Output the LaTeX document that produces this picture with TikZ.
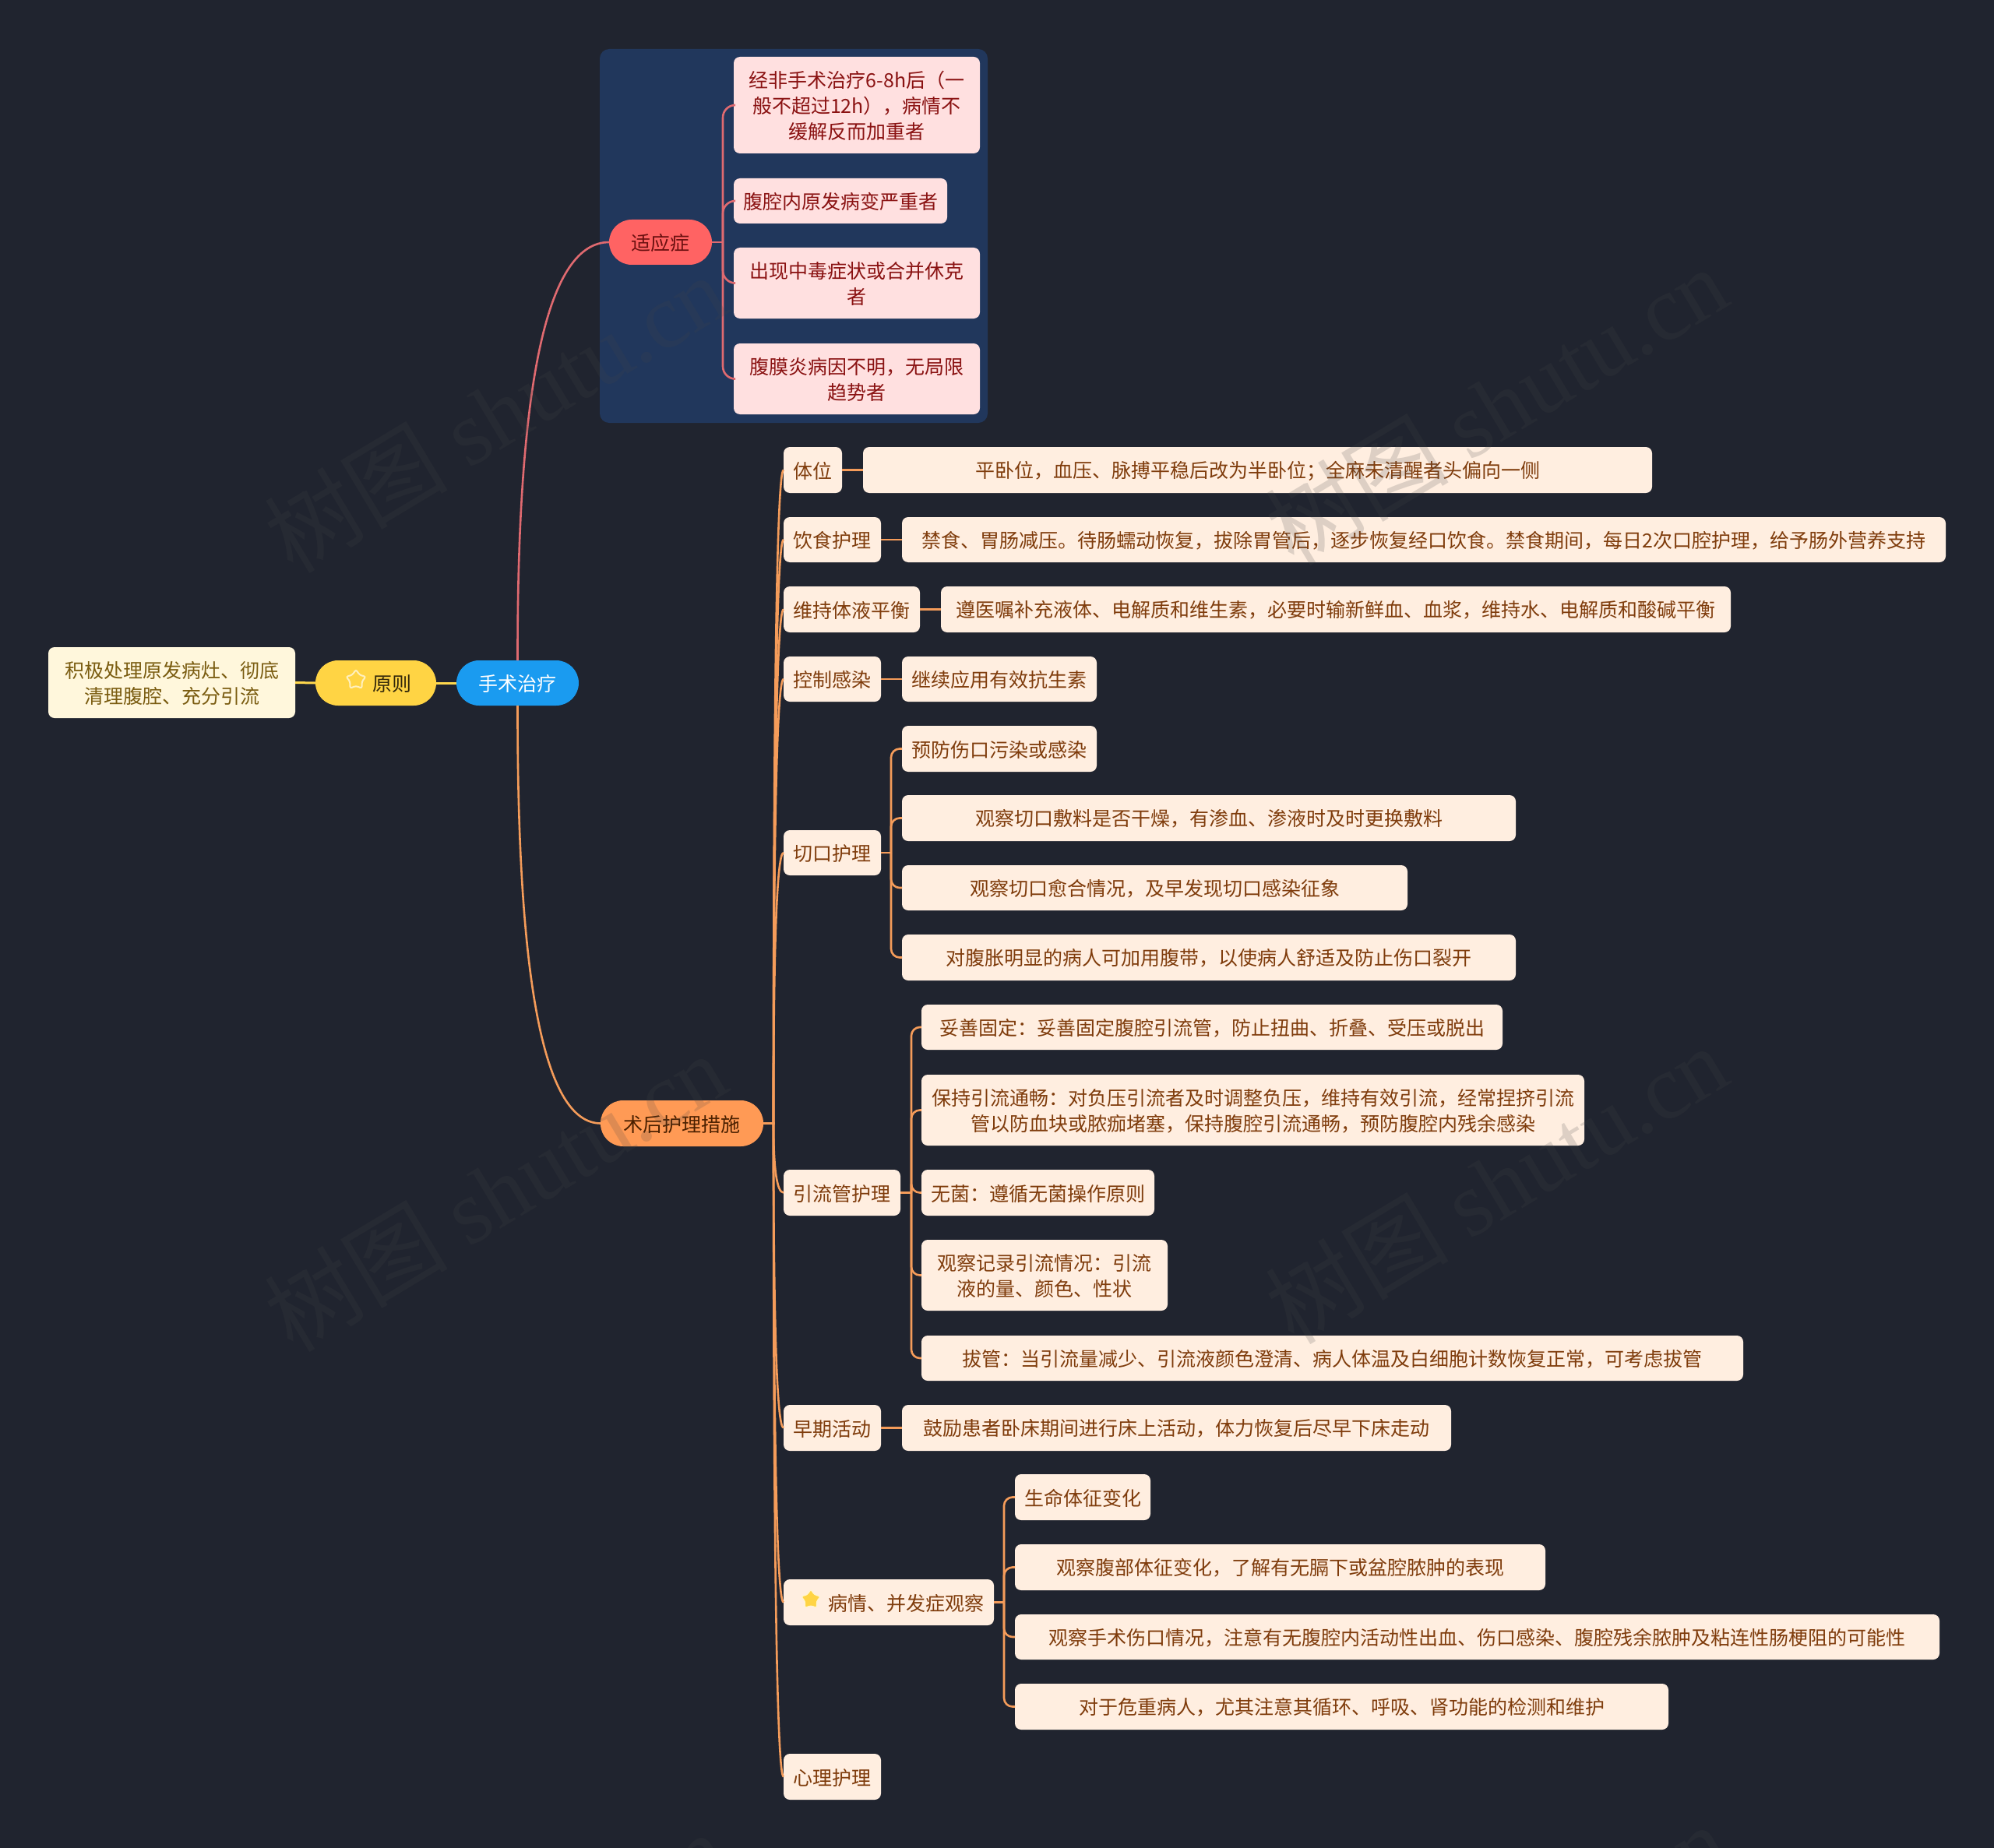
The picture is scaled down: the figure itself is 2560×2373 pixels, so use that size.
\documentclass[tikz,border=0pt]{standalone}
\usepackage{fontspec}
\setmainfont{Noto Sans CJK SC}
\newfontfamily\wmserif{Liberation Serif}
\usetikzlibrary{calc,shapes.geometric}
\definecolor{bgdark}{HTML}{20242F}
\definecolor{groupblue}{HTML}{21375C}
\definecolor{peachfill}{HTML}{FFEEE0}
\definecolor{peachtext}{HTML}{7F3C0C}
\definecolor{pinkfill}{HTML}{FFE0E0}
\definecolor{pinktext}{HTML}{8A1212}
\definecolor{creamfill}{HTML}{FFF7DC}
\definecolor{creamtext}{HTML}{7A5C10}
\definecolor{linered}{HTML}{E06A70}
\definecolor{lineorange}{HTML}{F59C5A}
\definecolor{lineyellow}{HTML}{FFD84D}
\definecolor{wmgray}{HTML}{464646}
\definecolor{HTMLroot}{HTML}{1A9BF0}
\definecolor{HTMLyellow}{HTML}{FFD444}
\definecolor{HTMLyellowtext}{HTML}{33280A}
\definecolor{HTMLred}{HTML}{FF6363}
\definecolor{HTMLredtext}{HTML}{6B1010}
\definecolor{HTMLorange}{HTML}{FF9A55}
\definecolor{HTMLorangetext}{HTML}{4A2000}
\tikzset{
  x=1pt,y=-1pt,
  basebox/.style={inner sep=0pt,outer sep=0pt,align=center,font=\fontsize{25}{33}\selectfont},
  peachbox/.style={basebox,fill=peachfill,text=peachtext,rounded corners=8pt},
  pinkbox/.style={basebox,fill=pinkfill,text=pinktext,rounded corners=8pt},
  creambox/.style={basebox,fill=creamfill,text=creamtext,rounded corners=8pt},
  rootpill/.style={basebox,fill=HTMLroot,text=white,rounded corners=29pt},
  yellowpill/.style={basebox,fill=HTMLyellow,text=HTMLyellowtext,rounded corners=29pt},
  redpill/.style={basebox,fill=HTMLred,text=HTMLredtext,rounded corners=29pt},
  orangepill/.style={basebox,fill=HTMLorange,text=HTMLorangetext,rounded corners=29pt},
  orangelink/.style={draw=lineorange,line width=2.6pt},
  redlink/.style={draw=linered,line width=2.6pt},
  yellowlink/.style={draw=lineyellow,line width=3pt},
  wmtext/.style={text=wmgray,text opacity=0.18,rotate=31,inner sep=0pt,font=\fontsize{118}{118}\selectfont},
  stariconbox/.style={star,star points=5,star point ratio=1.75,minimum size=27pt,inner sep=0pt,rounded corners=3pt},
}
% style, name, x1,y1,x2,y2, text
\newcommand{\nd}[7]{\node[#1,minimum width={(#5-#3)*1pt},minimum height={(#6-#4)*1pt}] (#2) at ({(#3+#5)/2},{(#4+#6)/2}) {\rule{0pt}{23.5pt}#7};}
% parent, child: long tapering curve
\newcommand{\trunklink}[2]{\draw[orangelink] (#1.east) -- ++(13,0) coordinate (tt) .. controls ($(tt)!0.6!(tt |- #2.west)$) and ($(#2.west)!0.02!(tt |- #2.west)+(-9,0)$) .. (#2.west);}
% parent, child, horizontal stub, link style, corner radius
\newcommand{\fork}[5]{\draw[#4,rounded corners=#5pt] ($(#1.east)+(#3,0)$) |- (#2.west); \draw[#4] (#1.east) -- ++(#3,0);}
\begin{document}
\begin{tikzpicture}
\useasboundingbox (0,0) rectangle (2560,2373);
\fill[bgdark] (0,0) rectangle (2560,2373);
\fill[groupblue,rounded corners=12pt] (770,63) rectangle (1268,543);

\nd{rootpill}{root}{586}{848}{743}{906}{手术治疗}
\nd{yellowpill}{princ}{405}{848}{560}{906}{\hspace*{42pt}原则}
\nd{creambox}{princtext}{62}{831}{379}{922}{积极处理原发病灶、彻底\\清理腹腔、充分引流}
\nd{redpill}{indic}{782}{282}{914}{340}{适应症}
\nd{pinkbox}{ia}{942}{73}{1258}{197}{经非手术治疗6-8h后（一\\般不超过12h），病情不\\缓解反而加重者}
\nd{pinkbox}{ib}{942}{229}{1216}{287}{腹腔内原发病变严重者}
\nd{pinkbox}{ic}{942}{318}{1258}{409}{出现中毒症状或合并休克\\者}
\nd{pinkbox}{id}{942}{441}{1258}{532}{腹膜炎病因不明，无局限\\趋势者}
\nd{orangepill}{post}{771}{1413}{980}{1472}{术后护理措施}

\nd{peachbox}{pa}{1006}{574}{1081}{633}{体位}
\nd{peachbox}{pat}{1108}{574}{2121}{633}{平卧位，血压、脉搏平稳后改为半卧位；全麻未清醒者头偏向一侧}
\nd{peachbox}{pb}{1006}{664}{1131}{722}{饮食护理}
\nd{peachbox}{pbt}{1158}{664}{2498}{722}{禁食、胃肠减压。待肠蠕动恢复，拔除胃管后，逐步恢复经口饮食。禁食期间，每日2次口腔护理，给予肠外营养支持}
\nd{peachbox}{pc}{1006}{753}{1181}{812}{维持体液平衡}
\nd{peachbox}{pct}{1208}{753}{2222}{812}{遵医嘱补充液体、电解质和维生素，必要时输新鲜血、血浆，维持水、电解质和酸碱平衡}
\nd{peachbox}{pd}{1006}{843}{1131}{901}{控制感染}
\nd{peachbox}{pdt}{1158}{843}{1408}{901}{继续应用有效抗生素}
\nd{peachbox}{pe}{1006}{1066}{1131}{1124}{切口护理}
\nd{peachbox}{pea}{1158}{932}{1408}{991}{预防伤口污染或感染}
\nd{peachbox}{peb}{1158}{1021}{1946}{1080}{观察切口敷料是否干燥，有渗血、渗液时及时更换敷料}
\nd{peachbox}{pec}{1158}{1111}{1807}{1169}{观察切口愈合情况，及早发现切口感染征象}
\nd{peachbox}{ped}{1158}{1200}{1946}{1259}{对腹胀明显的病人可加用腹带，以使病人舒适及防止伤口裂开}
\nd{peachbox}{pf}{1006}{1502}{1156}{1561}{引流管护理}
\nd{peachbox}{pfa}{1183}{1290}{1929}{1348}{妥善固定：妥善固定腹腔引流管，防止扭曲、折叠、受压或脱出}
\nd{peachbox}{pfb}{1183}{1380}{2034}{1471}{保持引流通畅：对负压引流者及时调整负压，维持有效引流，经常捏挤引流\\管以防血块或脓痂堵塞，保持腹腔引流通畅，预防腹腔内残余感染}
\nd{peachbox}{pfc}{1183}{1502}{1482}{1561}{无菌：遵循无菌操作原则}
\nd{peachbox}{pfd}{1183}{1592}{1499}{1683}{观察记录引流情况：引流\\液的量、颜色、性状}
\nd{peachbox}{pfe}{1183}{1715}{2238}{1773}{拔管：当引流量减少、引流液颜色澄清、病人体温及白细胞计数恢复正常，可考虑拔管}
\nd{peachbox}{pg}{1006}{1804}{1131}{1863}{早期活动}
\nd{peachbox}{pgt}{1158}{1804}{1863}{1863}{鼓励患者卧床期间进行床上活动，体力恢复后尽早下床走动}
\nd{peachbox}{ph}{1006}{2028}{1276}{2087}{\hspace*{44pt}病情、并发症观察}
\nd{peachbox}{pha}{1303}{1893}{1477}{1952}{生命体征变化}
\nd{peachbox}{phb}{1303}{1983}{1984}{2042}{观察腹部体征变化，了解有无膈下或盆腔脓肿的表现}
\nd{peachbox}{phc}{1303}{2073}{2490}{2131}{观察手术伤口情况，注意有无腹腔内活动性出血、伤口感染、腹腔残余脓肿及粘连性肠梗阻的可能性}
\nd{peachbox}{phd}{1303}{2162}{2142}{2221}{对于危重病人，尤其注意其循环、呼吸、肾功能的检测和维护}
\nd{peachbox}{pi}{1006}{2252}{1131}{2311}{心理护理}

\node[stariconbox,fill=HTMLyellow,draw=HTMLyellow!35!white,line width=2pt] (staricona) at (457,873) {};
\node[stariconbox,fill=HTMLyellow,draw=HTMLyellow!25!white,line width=1.5pt] (stariconb) at (1041,2054) {};

% root links
\draw[yellowlink] (root.west) -- (princ.east);
\draw[yellowlink] (princ.west) -- (princtext.east);
\draw[redlink] (root.north) .. controls (664,480) and (705,311) .. (indic.west);
\draw[orangelink] (root.south) .. controls (664,1270) and (700,1442) .. (post.west);

% indications
\fork{indic}{ia}{14}{redlink}{16}
\fork{indic}{ib}{14}{redlink}{16}
\fork{indic}{ic}{14}{redlink}{16}
\fork{indic}{id}{14}{redlink}{16}

% post-op trunk
\trunklink{post}{pa}
\trunklink{post}{pb}
\trunklink{post}{pc}
\trunklink{post}{pd}
\trunklink{post}{pe}
\trunklink{post}{pf}
\trunklink{post}{pg}
\trunklink{post}{ph}
\trunklink{post}{pi}

\draw[orangelink] (pa.east) -- (pat.west);
\draw[orangelink] (pb.east) -- (pbt.west);
\draw[orangelink] (pc.east) -- (pct.west);
\draw[orangelink] (pd.east) -- (pdt.west);
\draw[orangelink] (pg.east) -- (pgt.west);

\fork{pe}{pea}{13}{orangelink}{11}
\fork{pe}{peb}{13}{orangelink}{11}
\fork{pe}{pec}{13}{orangelink}{11}
\fork{pe}{ped}{13}{orangelink}{11}
\fork{pf}{pfa}{14}{orangelink}{11}
\fork{pf}{pfb}{14}{orangelink}{11}
\fork{pf}{pfc}{14}{orangelink}{11}
\fork{pf}{pfd}{14}{orangelink}{11}
\fork{pf}{pfe}{14}{orangelink}{11}
\fork{ph}{pha}{13}{orangelink}{11}
\fork{ph}{phb}{13}{orangelink}{11}
\fork{ph}{phc}{13}{orangelink}{11}
\fork{ph}{phd}{13}{orangelink}{11}

% watermarks
\node[wmtext] (wma) at (636,530) {树图 {\wmserif shutu.cn}};
\node[wmtext] (wmb) at (1921,520) {树图 {\wmserif shutu.cn}};
\node[wmtext] (wmc) at (636,1530) {树图 {\wmserif shutu.cn}};
\node[wmtext] (wmd) at (1921,1520) {树图 {\wmserif shutu.cn}};
\node[wmtext] (wme) at (636,2530) {树图 {\wmserif shutu.cn}};
\node[wmtext] (wmf) at (1921,2520) {树图 {\wmserif shutu.cn}};
\end{tikzpicture}
\end{document}
